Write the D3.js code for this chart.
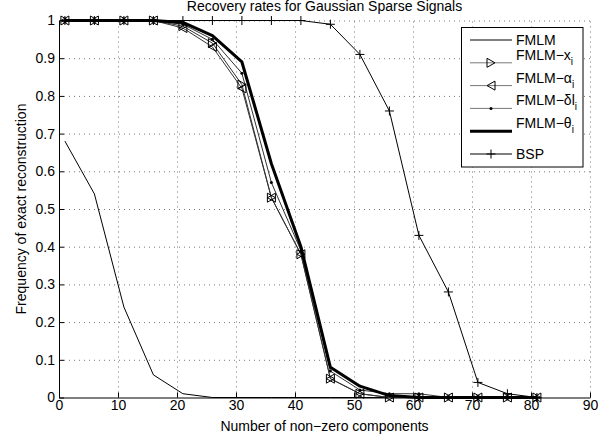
<!DOCTYPE html>
<html>
<head>
<meta charset="utf-8">
<script src="https://cdn.jsdelivr.net/npm/d3@7"></script>
<style>
  body { margin: 0; background: #fff; }
  text { font-family: "Liberation Sans", Arial, sans-serif; }
</style>
</head>
<body>
<svg id="chart"></svg>
<script>
const nonZero = [1, 6, 11, 16, 21, 26, 31, 36, 41, 46, 51, 56, 61, 66, 71, 76, 81];
const fmlm = [0.68, 0.54, 0.24, 0.06, 0.01, 0, 0, 0, 0, 0, 0, 0, 0, 0, 0, 0, 0];
const fmlmX = [1, 1, 1, 1, 0.985, 0.94, 0.83, 0.53, 0.38, 0.05, 0.01, 0, 0, 0, 0, 0, 0];
const fmlmAlpha = [1, 1, 1, 1, 0.98, 0.93, 0.82, 0.53, 0.38, 0.05, 0.01, 0, 0, 0, 0, 0, 0];
const fmlmDelta = [1, 1, 1, 1, 0.99, 0.95, 0.86, 0.57, 0.39, 0.07, 0.02, 0.01, 0.01, 0, 0, 0, 0];
const fmlmTheta = [1, 1, 1, 1, 0.995, 0.96, 0.89, 0.62, 0.40, 0.08, 0.03, 0.005, 0, 0, 0, 0, 0];
const bsp = [1, 1, 1, 1, 1, 1, 1, 1, 1, 0.99, 0.91, 0.76, 0.43, 0.28, 0.04, 0.01, 0];
const xTicks = [0, 10, 20, 30, 40, 50, 60, 70, 80, 90];
const yTicks = [0, 0.1, 0.2, 0.3, 0.4, 0.5, 0.6, 0.7, 0.8, 0.9, 1];
const legendNames = ["FMLM", "FMLM−x", "FMLM−α", "FMLM−δl", "FMLM−θ", "BSP"];

const width = 611, height = 442;
const margin = { top: 20.5, right: 21, bottom: 44.5, left: 59 };

const svg = d3.select("#chart").attr("width", width).attr("height", height);

const x = d3.scaleLinear().domain([0, 90]).range([margin.left, width - margin.right]);
const y = d3.scaleLinear().domain([0, 1]).range([height - margin.bottom, margin.top]);

// dotted grid
const grid = svg.append("g").attr("stroke", "#777").attr("stroke-dasharray", "1,4").attr("stroke-width", 1);
grid.selectAll(".gx").data(xTicks.slice(1)).enter().append("line")
  .attr("x1", d => x(d) + 0.5).attr("x2", d => x(d) + 0.5)
  .attr("y1", y(0)).attr("y2", y(1));
grid.selectAll(".gy").data(yTicks.slice(1)).enter().append("line")
  .attr("x1", x(0)).attr("x2", x(90))
  .attr("y1", d => y(d) + 0.5).attr("y2", d => y(d) + 0.5);

// axes
const xAxis = svg.append("g")
  .attr("transform", `translate(0, ${y(0)})`)
  .call(d3.axisBottom(x).tickValues(xTicks).tickSize(-5).tickSizeOuter(0).tickPadding(3).tickFormat(d3.format("d")));
const yAxis = svg.append("g")
  .attr("transform", `translate(${x(0)}, 0)`)
  .call(d3.axisLeft(y).tickValues(yTicks).tickSize(-5).tickSizeOuter(0).tickPadding(4).tickFormat(d => d === 0 || d === 1 ? d : d.toFixed(1)));
[xAxis, yAxis].forEach(a => {
  a.select(".domain").attr("stroke", "#000");
  a.selectAll(".tick line").attr("stroke", "#000");
  a.selectAll("text").attr("font-size", 14).attr("fill", "#000").style("font-family", "Liberation Sans, Arial, sans-serif");
});

svg.append("text").attr("x", (x(0) + x(90)) / 2).attr("y", 11)
  .attr("text-anchor", "middle").attr("font-size", 14).text("Recovery rates for Gaussian Sparse Signals");
svg.append("text").attr("x", (x(0) + x(90)) / 2).attr("y", 431)
  .attr("text-anchor", "middle").attr("font-size", 14).text("Number of non−zero components");
svg.append("text").attr("transform", `translate(26, ${(y(0) + y(1)) / 2}) rotate(-90)`)
  .attr("text-anchor", "middle").attr("font-size", 14).text("Frequency of exact reconstruction");

const line = d3.line().x(d => x(d[0])).y(d => y(d[1]));
const pts = arr => nonZero.map((v, i) => [v, arr[i]]);

const triRight = "M-4,-4.5L4,0L-4,4.5Z";
const triLeft = "M4,-4.5L-4,0L4,4.5Z";
const plus = "M-4.5,0H4.5M0,-4.5V4.5";

const series = [
  { data: fmlm, stroke: "#000", width: 1 },
  { data: fmlmX, stroke: "#333", width: 1, marker: triRight },
  { data: fmlmAlpha, stroke: "#333", width: 1, marker: triLeft },
  { data: fmlmDelta, stroke: "#333", width: 1, dot: true },
  { data: fmlmTheta, stroke: "#000", width: 3 },
  { data: bsp, stroke: "#000", width: 1, marker: plus }
];

const plot = svg.append("g");
series.forEach(s => {
  plot.append("path").datum(pts(s.data))
    .attr("fill", "none").attr("stroke", s.stroke).attr("stroke-width", s.width)
    .attr("stroke-linejoin", "round").attr("d", line);
});
series.forEach(s => {
  if (s.marker) {
    plot.selectAll(null).data(pts(s.data)).enter().append("path")
      .attr("transform", d => `translate(${x(d[0])},${y(d[1])})`)
      .attr("d", s.marker).attr("fill", "none").attr("stroke", "#000").attr("stroke-width", 1);
  }
  if (s.dot) {
    plot.selectAll(null).data(pts(s.data)).enter().append("circle")
      .attr("cx", d => x(d[0])).attr("cy", d => y(d[1])).attr("r", 1.5).attr("fill", "#000");
  }
});

// legend
const lg = svg.append("g");
lg.append("rect").attr("x", 461.5).attr("y", 27.5).attr("width", 121.5).attr("height", 139.5)
  .attr("fill", "#fff").attr("stroke", "#000").attr("stroke-width", 1);
const legendStroke = ["#000", "#777", "#777", "#777", "#000", "#000"];
legendNames.forEach((name, i) => {
  const s = series[i];
  const ly = 40 + i * 22.8;
  lg.append("line").attr("x1", 470).attr("x2", 512).attr("y1", ly).attr("y2", ly)
    .attr("stroke", legendStroke[i]).attr("stroke-width", s.width);
  if (s.marker) {
    lg.append("path").attr("transform", `translate(491,${ly})`).attr("d", s.marker)
      .attr("fill", "none").attr("stroke", "#000").attr("stroke-width", 1);
  }
  if (s.dot) lg.append("circle").attr("cx", 491).attr("cy", ly).attr("r", 1.5).attr("fill", "#000");
  const hasSub = i >= 1 && i <= 4;
  const t = lg.append("text").attr("x", 516).attr("y", hasSub ? ly - 3 : ly + 4.5).attr("font-size", 14).text(name);
  if (hasSub) t.append("tspan").attr("dy", 5).attr("font-size", 10).text("i");
});
</script>
</body>
</html>
